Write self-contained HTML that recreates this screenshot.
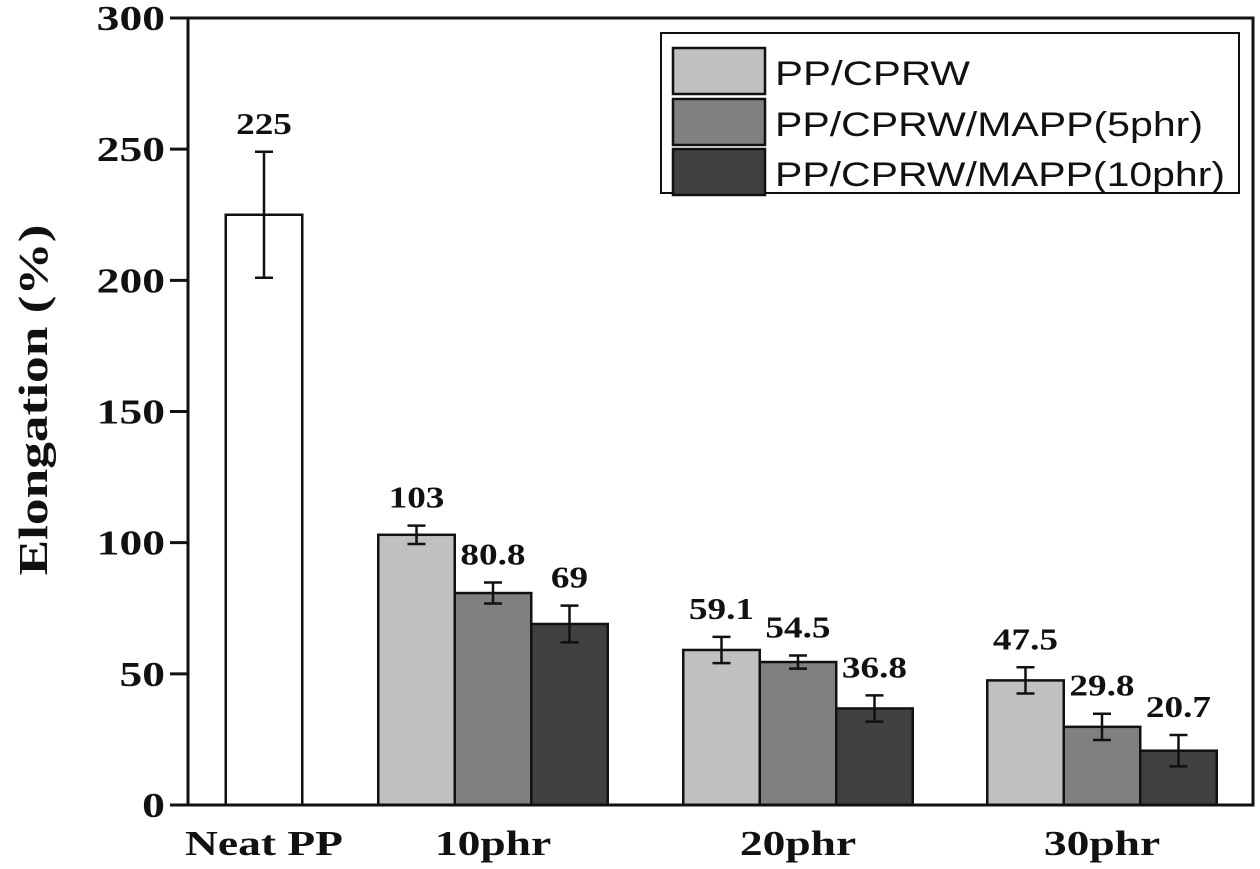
<!DOCTYPE html>
<html><head><meta charset="utf-8">
<style>
html,body{margin:0;padding:0;background:#fff;}
svg{display:block;}
</style></head>
<body>
<svg id="chart" width="1260" height="869" viewBox="0 0 1260 869" xmlns="http://www.w3.org/2000/svg">
</svg>
<script>
const categories = ["Neat PP", "10phr", "20phr", "30phr"];
const neatValue = [225];
const neatError = [24];
const seriesNames = ["PP/CPRW", "PP/CPRW/MAPP(5phr)", "PP/CPRW/MAPP(10phr)"];
const seriesA = [103, 59.1, 47.5];
const seriesB = [80.8, 54.5, 29.8];
const seriesC = [69, 36.8, 20.7];
const errA = [3.5, 5, 5];
const errB = [4, 2.5, 5];
const errC = [7, 5, 6];
const labelsA = ["103", "59.1", "47.5"];
const labelsB = ["80.8", "54.5", "29.8"];
const labelsC = ["69", "36.8", "20.7"];
const yTicks = [0, 50, 100, 150, 200, 250, 300];

const NS = "http://www.w3.org/2000/svg";
const svg = document.getElementById("chart");
const L = 188, R = 1253, T = 18, B = 805;
const yMax = 300;
function y(v){ return B - (v / yMax) * (B - T); }
const groupCenters = [264, 493, 798, 1102];
const barW = 76.5;
function bx(g, s){ return groupCenters[g] - 1.5 * barW + s * barW; }

function el(tag, attrs, parent){
  const e = document.createElementNS(NS, tag);
  for (const k in attrs) e.setAttribute(k, attrs[k]);
  (parent || svg).appendChild(e);
  return e;
}
function stretch(t, f){
  const w = t.getComputedTextLength();
  t.setAttribute("textLength", (w * f).toFixed(1));
  t.setAttribute("lengthAdjust", "spacingAndGlyphs");
}
const serif = '"Liberation Serif", serif';

function errorBar(cx, v, err, name){
  const g = el("g", {});
  
  
  el("line", {x1:cx, x2:cx, y1:y(v+err), y2:y(v-err), stroke:"#111", "stroke-width":2.5}, g);
  el("line", {x1:cx-9, x2:cx+9, y1:y(v+err), y2:y(v+err), stroke:"#111", "stroke-width":2.5}, g);
  el("line", {x1:cx-9, x2:cx+9, y1:y(v-err), y2:y(v-err), stroke:"#111", "stroke-width":2.5}, g);
}
function valueLabel(cx, v, err, txt, name){
  const t = el("text", {x:cx, y:y(v+err)-18, "text-anchor":"middle", "font-family":serif, "font-weight":"bold", "font-size":31, fill:"#111"});
  t.textContent = txt;
  
  
  stretch(t, 1.2);
}

const nx = groupCenters[0] - barW/2;
const nb = el("rect", {x:nx, y:y(neatValue[0]), width:barW, height:B-y(neatValue[0]), fill:"#fff", stroke:"#111", "stroke-width":2.5});


errorBar(groupCenters[0], neatValue[0], neatError[0], 'error-bar-neat-pp');
valueLabel(groupCenters[0], neatValue[0], neatError[0], "225", 'value-label-neat-pp');

const colors = ["#c0c0c0", "#808080", "#414141"];
const allVals = [seriesA, seriesB, seriesC];
const allErrs = [errA, errB, errC];
const allLabels = [labelsA, labelsB, labelsC];
for (let s = 0; s < 3; s++){
  for (let i = 0; i < 3; i++){
    const g = i + 1;
    const v = allVals[s][i];
    const x0 = bx(g, s);
    const r = el("rect", {x:x0, y:y(v), width:barW, height:B-y(v), fill:colors[s], stroke:"#111", "stroke-width":2.5});
    
    
    errorBar(x0 + barW/2, v, allErrs[s][i], 'error-bar-' + categories[g] + '-series-' + (s+1));
    valueLabel(x0 + barW/2, v, allErrs[s][i], allLabels[s][i], 'value-label-' + categories[g] + '-series-' + (s+1));
  }
}

const fr = el("rect", {x:L, y:T, width:R-L, height:B-T, fill:"none", stroke:"#111", "stroke-width":3});



for (const t of yTicks){
  const ln = el("line", {x1:L-18, x2:L, y1:y(t), y2:y(t), stroke:"#111", "stroke-width":3});
  
  
  const tx = el("text", {x:L-23, y:y(t)+12, "text-anchor":"end", "font-family":serif, "font-weight":"bold", "font-size":35, fill:"#111"});
  tx.textContent = t;
  
  
  stretch(tx, 1.3);
}
for (let i = 0; i < categories.length; i++){
  const tx = el("text", {x:groupCenters[i], y:855, "text-anchor":"middle", "font-family":serif, "font-weight":"bold", "font-size":35, fill:"#111"});
  tx.textContent = categories[i];
  
  
  stretch(tx, 1.3);
}
const yt = el("text", {x:0, y:0, transform:"translate(47 400) rotate(-90)", "text-anchor":"middle", "font-family":serif, "font-weight":"bold", "font-size":41, fill:"#111"});
yt.textContent = "Elongation (%)";


stretch(yt, 1.3);

const lg = el("g", {});


el("rect", {x:661, y:33, width:578, height:160, fill:"#fff", stroke:"#111", "stroke-width":2}, lg);
const rowsY = [46, 97, 147];
const legendWidths = [195, 428, 450];
for (let s = 0; s < 3; s++){
  const e = el("g", {}, lg);
  
  
  el("rect", {x:673, y:rowsY[s]+2, width:92, height:46, fill:colors[s], stroke:"#111", "stroke-width":2.5}, e);
  const t = el("text", {x:775, y:rowsY[s]+39, "font-family":'"Liberation Sans", sans-serif', "font-size":34, fill:"#111", textLength:legendWidths[s], lengthAdjust:"spacingAndGlyphs"}, e);
  t.textContent = seriesNames[s];
}
</script>
</body></html>
